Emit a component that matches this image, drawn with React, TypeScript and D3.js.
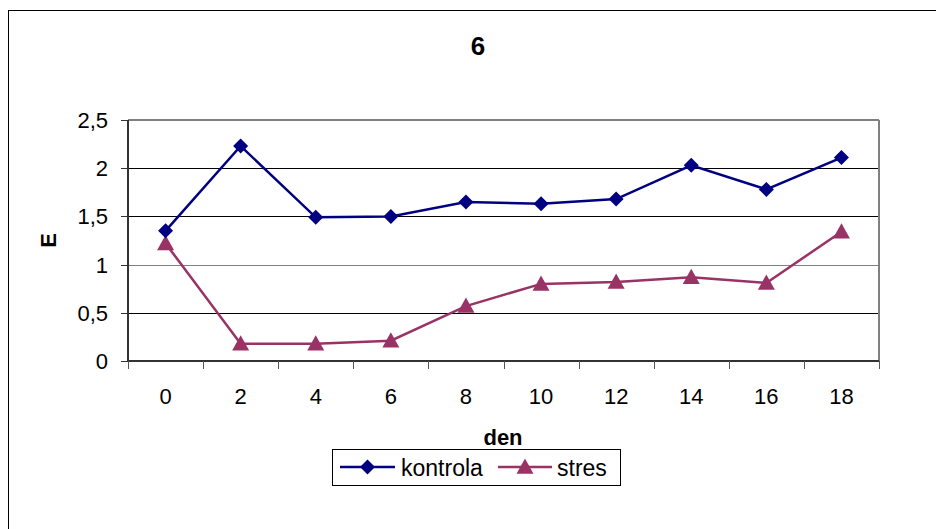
import React from "react";
import * as d3 from "d3";

const categories = ["0", "2", "4", "6", "8", "10", "12", "14", "16", "18"];
const kontrola = [1.35, 2.23, 1.49, 1.5, 1.65, 1.63, 1.68, 2.03, 1.78, 2.11];
const stres = [1.22, 0.18, 0.18, 0.21, 0.57, 0.8, 0.82, 0.87, 0.81, 1.34];
const yTicks = [0, 0.5, 1, 1.5, 2, 2.5];
const yTickLabels = ["0", "0,5", "1", "1,5", "2", "2,5"];

const W = 936;
const H = 529;
const plot = { left: 128, right: 879, top: 120, bottom: 361 };
const font = "Arial, 'Liberation Sans', Helvetica, sans-serif";
const cK = "#000080";
const cS = "#993366";

export default function App() {
  const x = d3.scaleBand<string>().domain(categories).range([plot.left, plot.right]);
  const y = d3.scaleLinear().domain([0, 2.5]).range([plot.bottom, plot.top]);
  const cx = (c: string) => (x(c) as number) + x.bandwidth() / 2;
  const line = d3
    .line<number>()
    .x((_, i) => cx(categories[i]))
    .y((d) => y(d));

  const diamond = (px: number, py: number, r = 7.5) =>
    `M${px},${py - r}L${px + r},${py}L${px},${py + r}L${px - r},${py}Z`;
  const triangle = (px: number, py: number, s = 8.5) =>
    `M${px},${py - s}L${px + s},${py + s * 0.8}L${px - s},${py + s * 0.8}Z`;

  const boundaries = categories.map((c) => x(c) as number).concat([plot.right]);

  return (
    <svg width={W} height={H} style={{ position: "absolute", left: 0, top: 0 }}>
      <rect x={0} y={0} width={W} height={H} fill="#fff" />
      <rect x={8.5} y={10.5} width={W + 20} height={H + 20} fill="none" stroke="#000" strokeWidth={1} />
      <text x={478} y={55} fontFamily={font} fontWeight="bold" fontSize={26} textAnchor="middle">
        6
      </text>
      {/* gridlines */}
      {yTicks.slice(1, 5).map((t) => (
        <line
          key={t}
          x1={plot.left}
          x2={plot.right}
          y1={Math.round(y(t)) + 0.5}
          y2={Math.round(y(t)) + 0.5}
          stroke={t === 1 ? "#808080" : "#000"}
          strokeWidth={1}
          shapeRendering="crispEdges"
        />
      ))}
      {/* plot border top/right */}
      <line x1={plot.left} x2={plot.right} y1={plot.top} y2={plot.top} stroke="#808080" strokeWidth={2} />
      <line x1={plot.right} x2={plot.right} y1={plot.top} y2={plot.bottom} stroke="#808080" strokeWidth={2} />
      {/* y axis */}
      <line x1={plot.left} x2={plot.left} y1={plot.top} y2={plot.bottom} stroke="#333" strokeWidth={2} />
      {yTicks.map((t, i) => (
        <g key={t}>
          <line x1={plot.left - 7} x2={plot.left} y1={Math.round(y(t)) + 0.5} y2={Math.round(y(t)) + 0.5} stroke="#333" strokeWidth={1} shapeRendering="crispEdges" />
          <text x={108} y={y(t) + 8} fontFamily={font} fontSize={22} textAnchor="end">
            {yTickLabels[i]}
          </text>
        </g>
      ))}
      {/* x axis */}
      <line x1={plot.left} x2={plot.right} y1={plot.bottom} y2={plot.bottom} stroke="#333" strokeWidth={2} />
      {boundaries.map((b, i) => (
        <line key={i} x1={Math.round(b) + 0.5} x2={Math.round(b) + 0.5} y1={plot.bottom} y2={plot.bottom + 8} stroke="#555" strokeWidth={1} shapeRendering="crispEdges" />
      ))}
      {categories.map((c) => (
        <text key={c} x={cx(c)} y={404} fontFamily={font} fontSize={22} textAnchor="middle">
          {c}
        </text>
      ))}
      <text x={503} y={445} fontFamily={font} fontWeight="bold" fontSize={22} textAnchor="middle">
        den
      </text>
      <text
        transform={`translate(56, ${(plot.top + plot.bottom) / 2}) rotate(-90)`}
        fontFamily={font}
        fontWeight="bold"
        fontSize={22}
        textAnchor="middle"
      >
        E
      </text>
      {/* series */}
      <path d={line(stres) || ""} fill="none" stroke={cS} strokeWidth={2.5} />
      {stres.map((v, i) => (
        <path key={i} d={triangle(cx(categories[i]), y(v))} fill={cS} />
      ))}
      <path d={line(kontrola) || ""} fill="none" stroke={cK} strokeWidth={2.5} />
      {kontrola.map((v, i) => (
        <path key={i} d={diamond(cx(categories[i]), y(v))} fill={cK} />
      ))}
      {/* legend */}
      <rect x={332.5} y={449.5} width={288} height={36} fill="#fff" stroke="#000" strokeWidth={1} />
      <line x1={340} x2={395} y1={467} y2={467} stroke={cK} strokeWidth={2.5} />
      <path d={diamond(367.5, 467)} fill={cK} />
      <text x={401} y={476} fontFamily={font} fontSize={23}>
        kontrola
      </text>
      <line x1={498} x2={552} y1={467} y2={467} stroke={cS} strokeWidth={2.5} />
      <path d={triangle(525, 467)} fill={cS} />
      <text x={557} y={476} fontFamily={font} fontSize={23}>
        stres
      </text>
    </svg>
  );
}
